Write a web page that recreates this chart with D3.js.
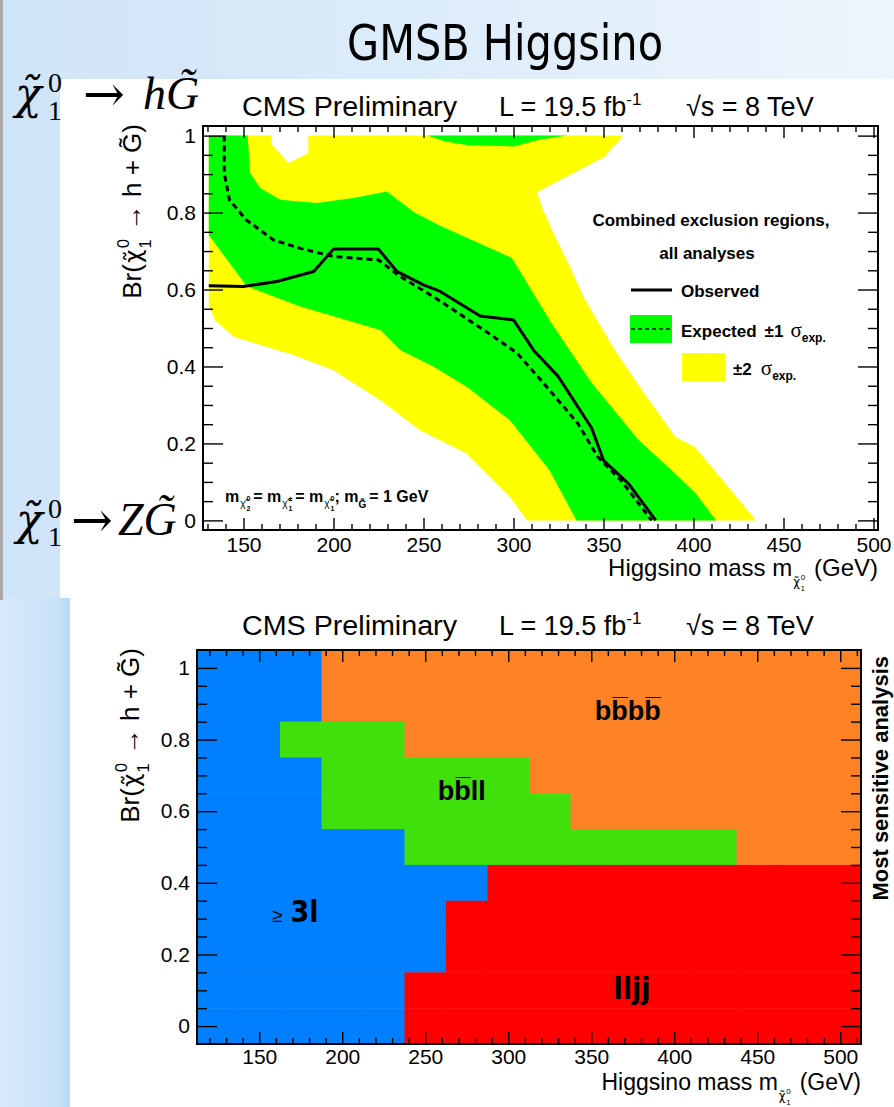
<!DOCTYPE html>
<html>
<head>
<meta charset="utf-8">
<script src="https://cdn.jsdelivr.net/npm/d3@7"></script>
<style>
  body { margin: 0; background: #fff; }
  svg { display: block; }
</style>
</head>
<body>
<svg id="chart" width="894" height="1107" font-family="'Liberation Sans', Arial, Helvetica, sans-serif"></svg>
<script>
// ---------------- data ----------------
const massTicks = [150, 200, 250, 300, 350, 400, 450, 500];
const brTicks = [0, 0.2, 0.4, 0.6, 0.8, 1];

// combined exclusion: observed contour
const obsMass = [130.7, 150, 168.5, 189, 200, 225, 235.2, 250, 259.3, 281.5, 300, 311.5, 324.7, 343.4, 350, 364, 379];
const obsBr   = [0.610, 0.608, 0.621, 0.647, 0.705, 0.705, 0.647, 0.612, 0.595, 0.531, 0.521, 0.440, 0.375, 0.240, 0.156, 0.095, 0.0];

// expected contour
const expMass = [139.3, 139.3, 142.2, 151.5, 166.7, 181.5, 200, 225, 237, 255.7, 283.5, 302, 315, 335.6, 346.8, 359.9, 376.7];
const expBr   = [1.0, 0.903, 0.833, 0.781, 0.729, 0.707, 0.686, 0.677, 0.634, 0.581, 0.495, 0.435, 0.366, 0.253, 0.165, 0.103, 0.0];

// +-2 sigma expected band (closed outline)
const band2Mass = [130.7, 130.7, 165.7, 165.7, 175, 186, 186, 361, 350.6, 313, 315.8, 322.5, 330, 339.3, 356, 371, 390, 401, 434.7,
                   307.5, 298, 274, 248, 226, 200, 177.8, 144.5, 134.3];
const band2Br   = [0.556, 1.0, 1.0, 0.977, 0.929, 0.955, 1.0, 1.0, 0.945, 0.853, 0.814, 0.743, 0.673, 0.577, 0.445, 0.341, 0.217, 0.19, 0.0,
                   0.0, 0.061, 0.174, 0.234, 0.3125, 0.39, 0.43, 0.477, 0.52];

// +-1 sigma expected band (closed outline)
const band1Mass = [130.7, 130.7, 152.3, 153.7, 159.3, 170.4, 190.7, 211, 229.6, 245, 259.3, 299.1, 320.6, 343.4, 369.5, 390, 401.4, 412.6,
                   335, 320, 298, 274, 255.7, 237, 226, 181.5, 151.9];
const band1Br   = [0.742, 1.0, 1.0, 0.903, 0.864, 0.833, 0.825, 0.838, 0.855, 0.80, 0.766, 0.682, 0.516, 0.358, 0.209, 0.121, 0.069, 0.0,
                   0.0, 0.13, 0.26, 0.347, 0.399, 0.443, 0.495, 0.556, 0.608];

// +-1 sigma band piece touching Br = 1
const band1TopMass = [252, 262, 275, 300, 315, 330];
const band1TopBr   = [1.0, 0.985, 0.975, 0.972, 0.99, 1.0];

// most sensitive analysis map: bins centred on these masses / branching ratios
const mapMass = [125, 150, 175, 200, 225, 250, 275, 300, 325, 350, 375, 400, 425, 450, 475, 500];
const mapBr = [1.0, 0.9, 0.8, 0.7, 0.6, 0.5, 0.4, 0.3, 0.2, 0.1, 0.0];
// analysis index per bin (0: >=3l, 1: bbll, 2: bbbb, 3: lljj), one string per Br row
const mapRows = [
  "0002222222222222",
  "0002222222222222",
  "0011122222222222",
  "0001111122222222",
  "0001111112222222",
  "0000011111111222",
  "0000000333333333",
  "0000003333333333",
  "0000003333333333",
  "0000033333333333",
  "0000033333333333"
];
const analysisColors = ["#0080ff", "#40e00c", "#fd8226", "#ff0000"];

// ---------------- drawing ----------------
const SANS = "'Liberation Sans', Arial, Helvetica, sans-serif";
const NARROW = "'Liberation Sans Narrow', 'DejaVu Sans Condensed', 'Liberation Sans', sans-serif";
const SERIF = "'Liberation Serif', 'DejaVu Serif', 'Times New Roman', serif";
const DSERIF = "'DejaVu Serif', 'Liberation Serif', serif";

const svg = d3.select("#chart");
const defs = svg.append("defs");

// slide background
const gTop = defs.append("linearGradient").attr("id", "bgTop").attr("x1", 0).attr("x2", 1).attr("y1", 0).attr("y2", 0);
gTop.append("stop").attr("offset", 0).attr("stop-color", "#cfe4f7");
gTop.append("stop").attr("offset", 1).attr("stop-color", "#edf5fd");
const gLeft = defs.append("linearGradient").attr("id", "bgLeft").attr("x1", 0).attr("x2", 1).attr("y1", 0).attr("y2", 0);
gLeft.append("stop").attr("offset", 0).attr("stop-color", "#d8eafa");
gLeft.append("stop").attr("offset", 0.8).attr("stop-color", "#c8e1f7");
gLeft.append("stop").attr("offset", 1).attr("stop-color", "#b9d9f5");

svg.append("rect").attr("width", 894).attr("height", 1107).attr("fill", "url(#bgTop)");
svg.append("rect").attr("x", 0).attr("y", 598).attr("width", 70).attr("height", 509).attr("fill", "url(#bgLeft)");
svg.append("rect").attr("x", 0).attr("y", 0).attr("width", 3).attr("height", 600).attr("fill", "#a9a9a9");
svg.append("rect").attr("x", 60).attr("y", 79).attr("width", 834).attr("height", 519).attr("fill", "#fff");
svg.append("rect").attr("x", 70).attr("y", 598).attr("width", 824).attr("height", 509).attr("fill", "#fff");

// slide title
svg.append("text").attr("x", 505).attr("y", 60).attr("text-anchor", "middle")
  .style("font-family", NARROW)
  .attr("font-size", 50).attr("textLength", 316).attr("lengthAdjust", "spacingAndGlyphs")
  .text("GMSB Higgsino");

// decay-mode labels in math style
function decayLabel(base, pos) {
  const put = (txt, x, y, size, fam, italic) => svg.append("text").attr("x", x).attr("y", y)
    .style("font-family", fam).attr("font-size", size).attr("font-style", italic ? "italic" : "normal").text(txt);
  put("\u03c7\u0303", pos.chi, base, 44, DSERIF, true);
  put("0", pos.idx, base - 17, 28, SERIF, false);
  put("1", pos.idx, base + 11, 28, SERIF, false);
  put("\u2192", pos.arrow, base + 2, 50, DSERIF, false);
  put(pos.boson + "G\u0303", pos.b, base, 46, SERIF, true);
}
decayLabel(109, { chi: 15, idx: 48, arrow: 83, boson: "h", b: 143 });
decayLabel(535, { chi: 16, idx: 48, arrow: 71, boson: "Z", b: 118 });

// frame with inward ticks on all four sides, labels on left and bottom
function drawFrame(g, x, y, xLen, yLen, yFmt, xPad) {
  const [x0, x1] = x.range();
  const [y0, y1] = y.range();
  const xd = x.domain();
  const xMinor = d3.range(Math.ceil(xd[0] / 10) * 10, xd[1], 10).filter(v => v % 50 !== 0);
  const yMinor = d3.range(0, 21).map(i => i * 0.05).filter((v, i) => i % 4 !== 0);
  const strip = sel => {
    sel.select(".domain").remove();
    sel.selectAll(".tick line").attr("stroke", "#000").attr("stroke-width", 1.4);
  };
  const axes = [
    [d3.axisBottom, y0, "h"], [d3.axisTop, y1, "h"], [d3.axisLeft, x0, "v"], [d3.axisRight, x1, "v"]
  ];
  axes.forEach(([ax, pos, dir], k) => {
    const sc = dir === "h" ? x : y;
    const len = dir === "h" ? xLen : yLen;
    const minorVals = dir === "h" ? xMinor : yMinor;
    const majorVals = dir === "h" ? massTicks : brTicks;
    const tr = dir === "h" ? `translate(0,${pos})` : `translate(${pos},0)`;
    g.append("g").attr("transform", tr)
      .call(ax(sc).tickValues(minorVals).tickSize(-len / 2).tickFormat("")).call(strip);
    const labelled = k === 0 || k === 2;
    const fmt = !labelled ? "" : (dir === "h" ? d3.format("d") : yFmt);
    const a = g.append("g").attr("transform", tr)
      .call(ax(sc).tickValues(majorVals).tickSize(-len).tickPadding(dir === "h" ? xPad : 7).tickFormat(fmt)).call(strip);
    a.attr("font-family", null).attr("font-size", null);
    a.selectAll("text").attr("font-size", 21).style("font-family", SANS).attr("fill", "#000");
  });
  g.append("rect").attr("x", x0).attr("y", y1).attr("width", x1 - x0).attr("height", y0 - y1)
    .attr("fill", "none").attr("stroke", "#000").attr("stroke-width", 2);
}

// chi-tilde with stacked super/subscript; returns the net vertical shift left behind
function chi(t, size, supTxt, subTxt, dy0) {
  t.append("tspan").attr("font-size", size * 0.9).style("font-family", "'DejaVu Sans', sans-serif")
    .attr("dy", dy0).attr("dx", 1).text("\u03c7\u0303");
  t.append("tspan").attr("font-size", size * 0.62).attr("dx", size * 0.06).attr("dy", -size * 0.48).text(supTxt);
  t.append("tspan").attr("font-size", size * 0.62).attr("dx", -size * 0.36).attr("dy", size * 0.86).text(subTxt);
  return dy0 - size * 0.48 + size * 0.86;
}

function titleLine(y) {
  svg.append("text").attr("x", 242).attr("y", y).attr("font-size", 27)
    .attr("textLength", 215).attr("lengthAdjust", "spacingAndGlyphs").text("CMS Preliminary");
  const l = svg.append("text").attr("x", 499).attr("y", y).attr("font-size", 27);
  l.append("tspan").text("L = 19.5 fb");
  l.append("tspan").attr("font-size", 17).attr("dy", -11).text("-1");
  svg.append("text").attr("x", 686).attr("y", y).attr("font-size", 27).text("\u221as = 8 TeV");
}

function yTitle(xb, yTop) {
  const t = svg.append("text").attr("transform", `translate(${xb},${yTop}) rotate(-90)`)
    .attr("text-anchor", "end").attr("font-size", 26);
  t.append("tspan").text("Br(");
  const d = chi(t, 26, "0", "1", 0);
  t.append("tspan").attr("font-size", 26).attr("dy", -d).attr("dx", 2).text(" \u2192 h + G\u0303)");
}

function xTitle(xr, yb, size) {
  const t = svg.append("text").attr("x", xr).attr("y", yb).attr("text-anchor", "end").attr("font-size", size);
  t.append("tspan").text("Higgsino mass m");
  const d = chi(t, 13, "0", "1", 10);
  t.append("tspan").attr("font-size", size).attr("dy", -d).attr("dx", 9).text("(GeV)");
}

// ======== upper panel: combined exclusion ========
const x1s = d3.scaleLinear().domain([127.5, 502.5]).range([203, 878]);
const y1s = d3.scaleLinear().domain([-0.025, 1.025]).range([530, 126]);
const g1 = svg.append("g");

const poly = (ms, bs) => ms.map((m, i) => [x1s(m), y1s(bs[i])]);
const area = d3.line().curve(d3.curveLinearClosed);
g1.append("path").attr("d", area(poly(band2Mass, band2Br))).attr("fill", "#ffff00");
g1.append("path").attr("d", area(poly(band1Mass, band1Br))).attr("fill", "#00ff00");
g1.append("path").attr("d", area(poly(band1TopMass, band1TopBr))).attr("fill", "#00ff00");

const line = d3.line();
g1.append("path").attr("d", line(poly(expMass, expBr))).attr("fill", "none")
  .attr("stroke", "#000").attr("stroke-width", 3).attr("stroke-dasharray", "6,4");
g1.append("path").attr("d", line(poly(obsMass, obsBr))).attr("fill", "none")
  .attr("stroke", "#000").attr("stroke-width", 3).attr("stroke-linejoin", "round");

drawFrame(g1, x1s, y1s, 12, 20, d => String(d), 7);

titleLine(116);
yTitle(141, 124);
xTitle(878, 576, 24);

// mass relation note
{
  const t = svg.append("text").attr("x", 225).attr("y", 502).attr("font-size", 16).attr("font-weight", "bold");
  const small = (sup, sub) => {
    t.append("tspan").attr("font-size", 10).attr("font-weight", "normal").attr("dy", 5).attr("dx", 1).text("\u03c7\u0303");
    t.append("tspan").attr("font-size", 7).attr("dx", 1).attr("dy", -6).text(sup);
    t.append("tspan").attr("font-size", 7).attr("dx", -4).attr("dy", 10).text(sub);
    return 9;
  };
  t.append("tspan").text("m");
  let d = small("0", "2");
  t.append("tspan").attr("dy", -d).attr("dx", 3).text("= m");
  d = small("\u00b1", "1");
  t.append("tspan").attr("dy", -d).attr("dx", 3).text("= m");
  d = small("0", "1");
  t.append("tspan").attr("dy", -d).text(";  m");
  t.append("tspan").attr("font-size", 10).attr("dy", 6).text("G\u0303");
  t.append("tspan").attr("dy", -6).attr("dx", 3).text("= 1 GeV");
}

// legend
{
  const L = svg.append("g").attr("font-weight", "bold");
  L.append("text").attr("x", 711).attr("y", 226).attr("text-anchor", "middle").attr("font-size", 17).text("Combined exclusion regions,");
  L.append("text").attr("x", 707).attr("y", 259).attr("text-anchor", "middle").attr("font-size", 17).text("all analyses");
  L.append("line").attr("x1", 631).attr("x2", 672).attr("y1", 290).attr("y2", 290).attr("stroke", "#000").attr("stroke-width", 3);
  L.append("text").attr("x", 681).attr("y", 297).attr("font-size", 17).text("Observed");
  L.append("rect").attr("x", 630).attr("y", 315).attr("width", 42).attr("height", 28).attr("fill", "#00ff00");
  L.append("line").attr("x1", 631).attr("x2", 672).attr("y1", 329).attr("y2", 329).attr("stroke", "#000").attr("stroke-width", 1.3).attr("stroke-dasharray", "4,3");
  const e = L.append("text").attr("x", 681).attr("y", 337).attr("font-size", 17);
  e.append("tspan").text("Expected");
  e.append("tspan").attr("dx", 8).text("\u00b11");
  e.append("tspan").attr("dx", 7).attr("font-weight", "normal").style("font-family", SERIF).attr("font-size", 21).text("\u03c3");
  e.append("tspan").attr("font-size", 12).attr("dy", 5).text("exp.");
  L.append("rect").attr("x", 682).attr("y", 353).attr("width", 43).attr("height", 28).attr("fill", "#ffff00");
  const f = L.append("text").attr("x", 733).attr("y", 375).attr("font-size", 17);
  f.append("tspan").text("\u00b12");
  f.append("tspan").attr("dx", 9).attr("font-weight", "normal").style("font-family", SERIF).attr("font-size", 21).text("\u03c3");
  f.append("tspan").attr("font-size", 12).attr("dy", 5).text("exp.");
}

// ======== lower panel: most sensitive analysis ========
const x2s = d3.scaleLinear().domain([112.5, 512.5]).range([197, 861]);
const y2s = d3.scaleLinear().domain([-0.05, 1.05]).range([1044, 650]);
const g2 = svg.append("g");
const cells = [];
mapRows.forEach((row, r) => row.split("").forEach((c, i) => cells.push({ m: mapMass[i], b: mapBr[r], a: +c })));
g2.selectAll("rect.cell").data(cells).join("rect").attr("class", "cell")
  .attr("x", d => x2s(d.m - 12.5)).attr("y", d => y2s(d.b + 0.05))
  .attr("width", d => x2s(d.m + 12.5) - x2s(d.m - 12.5) + 0.5)
  .attr("height", d => y2s(d.b - 0.05) - y2s(d.b + 0.05) + 0.5)
  .attr("fill", d => analysisColors[d.a]);

drawFrame(g2, x2s, y2s, 12, 20, d => String(d), 5);

titleLine(635);
yTitle(139, 648);
xTitle(861, 1090, 23);

// region labels
{
  svg.append("text").attr("x", x2s(372)).attr("y", 720).attr("text-anchor", "middle")
    .attr("font-size", 27).attr("font-weight", "bold").text("bb\u0305bb\u0305");
  svg.append("text").attr("x", x2s(272)).attr("y", 800).attr("text-anchor", "middle")
    .attr("font-size", 27).attr("font-weight", "bold").text("bb\u0305ll");
  const l3 = svg.append("text").attr("x", 272).attr("y", 922).attr("font-weight", "bold");
  l3.append("tspan").attr("font-weight", "normal").attr("font-size", 19).text("\u2265");
  l3.append("tspan").attr("dx", 8).attr("font-size", 30).style("font-family", NARROW).text("3l");
  svg.append("text").attr("x", 632).attr("y", 999).attr("text-anchor", "middle").style("font-family", NARROW)
    .attr("font-size", 30).attr("font-weight", "bold").text("lljj");
  svg.append("text").attr("transform", "translate(888,656) rotate(-90)").attr("text-anchor", "end")
    .attr("font-size", 22).attr("font-weight", "bold").text("Most sensitive analysis");
}
</script>
</body>
</html>
